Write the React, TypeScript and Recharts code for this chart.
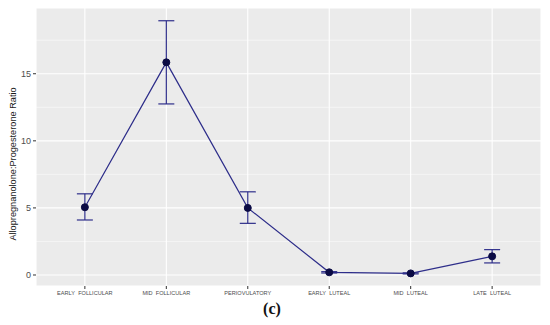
import React from "react";
import {
  LineChart,
  Line,
  XAxis,
  YAxis,
  CartesianGrid,
  ErrorBar,
  ReferenceLine,
  Label,
} from "recharts";

const phases = [
  "EARLY\u00A0 FOLLICULAR",
  "MID\u00A0 FOLLICULAR",
  "PERIOVULATORY",
  "EARLY\u00A0 LUTEAL",
  "MID\u00A0 LUTEAL",
  "LATE\u00A0 LUTEAL",
];
const ratioMean = [5.05, 15.85, 5.0, 0.2, 0.12, 1.39];
const ratioLow = [4.1, 12.75, 3.85, 0.15, 0.08, 0.9];
const ratioHigh = [6.05, 18.95, 6.2, 0.25, 0.16, 1.89];
const yTicks = [0, 5, 10, 15];
const yMinor = [2.5, 7.5, 12.5, 17.5];

const data = phases.map((p, i) => ({
  pos: i + 1,
  phase: p,
  mean: ratioMean[i],
  err: [ratioMean[i] - ratioLow[i], ratioHigh[i] - ratioMean[i]],
}));

const navy = "#2E2E8A";
const tickGrey = "#4D4D4D";

export default function App() {
  return (
    <div style={{ position: "relative", width: 550, height: 325, background: "#fff" }}>
      <style>{"body{margin:0}"}</style>
      <LineChart
        width={550}
        height={300}
        data={data}
        margin={{ top: 8, right: 9, left: 0, bottom: 0 }}
      >
        <CartesianGrid fill="#EBEBEB" stroke="#FFFFFF" strokeWidth={1.1} />
        {yMinor.map((v) => (
          <ReferenceLine key={v} y={v} stroke="#FFFFFF" strokeWidth={0.5} />
        ))}
        <XAxis
          dataKey="pos"
          type="number"
          domain={[0.4, 6.6]}
          ticks={[1, 2, 3, 4, 5, 6]}
          tickFormatter={(v: number) => phases[v - 1]}
          axisLine={false}
          tickLine={{ stroke: "#333" }}
          tickSize={3}
          tickMargin={2}
          height={14}
          interval={0}
          tick={{ fontSize: 5.6, fill: tickGrey, fontFamily: "Liberation Sans, Arial" }}
        />
        <YAxis
          type="number"
          domain={[-0.82, 19.9]}
          ticks={yTicks}
          allowDataOverflow
          axisLine={false}
          tickLine={{ stroke: "#333" }}
          tickSize={3}
          tickMargin={2}
          width={36}
          tick={{ fontSize: 9, fill: tickGrey, fontFamily: "Liberation Sans, Arial" }}
        >
          <Label
            content={() => (
              <text
                x={13}
                y={164}
                transform="rotate(-90 13 164)"
                textAnchor="middle"
                dominantBaseline="central"
                style={{ fontSize: 9.2, fill: "#1A1A1A", fontFamily: "Liberation Sans, Arial" }}
              >
                Allopregnanolone:Progesterone Ratio
              </text>
            )}
          />
        </YAxis>
        <Line
          dataKey="mean"
          stroke={navy}
          strokeWidth={1.2}
          isAnimationActive={false}
          dot={{ r: 3.5, fill: "#0B0B45", stroke: "#0B0B45", strokeWidth: 1 }}
        >
          <ErrorBar dataKey="err" direction="y" width={8} stroke={navy} strokeWidth={1.2} />
        </Line>
      </LineChart>
      <div
        style={{
          position: "absolute",
          left: 272 - 30,
          width: 60,
          top: 300,
          textAlign: "center",
          fontFamily: "Liberation Serif, serif",
          fontWeight: "bold",
          fontSize: 16,
          color: "#111",
        }}
      >
        (c)
      </div>
    </div>
  );
}
